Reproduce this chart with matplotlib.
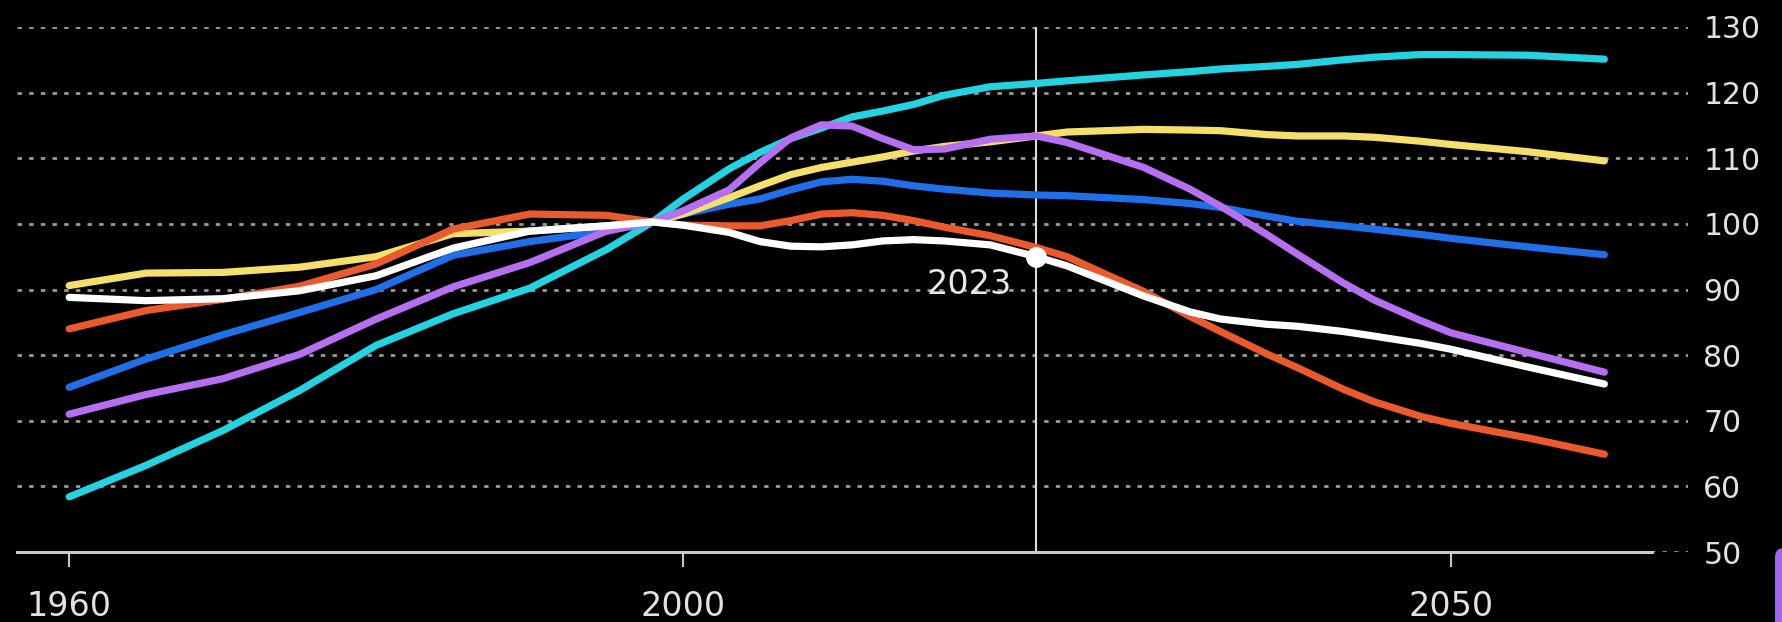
import matplotlib.pyplot as plt
from matplotlib.patches import FancyBboxPatch
from matplotlib.transforms import IdentityTransform

# Index values (2000 ~ 100), 1960-2060
years = [1960, 1965, 1970, 1975, 1980, 1985, 1990, 1995, 1998, 2000, 2003, 2005,
         2007, 2009, 2011, 2013, 2015, 2017, 2020, 2023, 2025, 2030, 2033, 2035,
         2038, 2040, 2043, 2045, 2048, 2050, 2055, 2060]

cyan_vals = [58.4, 63.2, 68.5, 74.6, 81.5, 86.3, 90.2, 96.1, 100.3, 103.8, 108.4, 110.9,
             113.0, 114.6, 116.3, 117.2, 118.2, 119.6, 120.9, 121.4, 121.8, 122.7, 123.2, 123.6,
             124.0, 124.3, 125.0, 125.4, 125.8, 125.8, 125.7, 125.1]
yellow_vals = [90.6, 92.5, 92.6, 93.4, 95.0, 98.5, 98.9, 99.7, 100.3, 101.5, 104.0, 105.8,
               107.5, 108.6, 109.4, 110.2, 111.1, 111.8, 112.5, 113.4, 114.0, 114.4, 114.3, 114.2,
               113.6, 113.4, 113.4, 113.2, 112.6, 112.1, 111.0, 109.6]
blue_vals = [75.1, 79.4, 83.1, 86.5, 90.0, 95.2, 97.3, 98.9, 100.3, 101.5, 103.0, 103.8,
             105.2, 106.4, 106.8, 106.5, 105.8, 105.3, 104.7, 104.4, 104.3, 103.7, 103.1, 102.5,
             101.2, 100.4, 99.7, 99.2, 98.4, 97.8, 96.5, 95.3]
purple_vals = [71.0, 74.0, 76.4, 80.1, 85.5, 90.4, 94.1, 98.9, 100.3, 102.0, 105.2, 109.3,
               113.1, 115.1, 114.9, 113.0, 111.3, 111.4, 112.9, 113.4, 112.4, 108.6, 105.3, 102.7,
               98.4, 95.4, 91.0, 88.4, 85.3, 83.4, 80.4, 77.4]
orange_vals = [84.0, 86.8, 88.5, 90.5, 93.9, 99.2, 101.5, 101.3, 100.3, 99.8, 99.7, 99.7,
               100.5, 101.5, 101.7, 101.3, 100.5, 99.5, 98.2, 96.4, 95.0, 89.7, 85.9, 83.6,
               80.2, 78.1, 74.8, 72.9, 70.7, 69.6, 67.4, 64.9]
white_vals = [88.8, 88.3, 88.6, 89.8, 92.1, 96.3, 98.9, 99.7, 100.3, 99.8, 98.7, 97.3,
              96.6, 96.5, 96.8, 97.4, 97.6, 97.4, 96.8, 95.0, 93.6, 89.0, 86.6, 85.5,
              84.7, 84.4, 83.6, 82.9, 81.8, 80.9, 78.2, 75.6]

x_ticks = [1960, 2000, 2050]
y_ticks = [50, 60, 70, 80, 90, 100, 110, 120, 130]
marker_year = 2023

# drawing order, bottom to top
series = [
    (blue_vals, "#1f6fe8"),
    (yellow_vals, "#f4df6a"),
    (cyan_vals, "#22d3e2"),
    (purple_vals, "#b56ff0"),
    (orange_vals, "#ea5a2c"),
    (white_vals, "#ffffff"),
]

fig = plt.figure(figsize=(17.83, 6.22), dpi=100, facecolor="black")
ax = fig.add_axes([17 / 1783, 70 / 622, 1671 / 1783, 525 / 622])
ax.set_facecolor("black")

for vals, col in series:
    ax.plot(years, vals, color=col, lw=5.2, solid_capstyle="round",
            solid_joinstyle="round", zorder=3)

ax.set_xlim(1956.6, 2065.45)
ax.set_ylim(50, 130)

# dashed horizontal grid
for v in y_ticks:
    ax.axhline(v, color="#9a9a9a", lw=2.0, dashes=(1.6, 2.6), zorder=1)

for s in ["top", "left", "right"]:
    ax.spines[s].set_visible(False)
ax.spines["bottom"].set_color("#c8c8c8")
ax.spines["bottom"].set_linewidth(2.2)
ax.spines["bottom"].set_bounds(1956.6, 2063.1)
ax.spines["bottom"].set_zorder(2)

ax.set_xticks(x_ticks)
ax.set_xticklabels([str(t) for t in x_ticks])
ax.tick_params(axis="x", length=11, width=1.5, color="#c8c8c8", pad=16,
               labelsize=24, labelcolor="#e2e2e2")

ax.yaxis.tick_right()
ax.set_yticks(y_ticks)
ax.set_yticklabels([str(t) for t in y_ticks])
ax.tick_params(axis="y", length=0, pad=11, labelsize=21.5, labelcolor="#e2e2e2")

# current-year marker
ax.axvline(marker_year, color="#dcdcdc", lw=1.5, zorder=2)
dot_val = white_vals[years.index(marker_year)]
ax.plot([marker_year], [dot_val], "o", color="white", ms=14, zorder=5)
ax.annotate(str(marker_year), xy=(marker_year, dot_val), xytext=(-18, -20),
            textcoords="offset points", ha="right", va="center",
            fontsize=24, color="#e8e8e8", zorder=6)

# corner tab
tab = FancyBboxPatch((1775, -30), 40, 104, boxstyle="round,pad=0,rounding_size=9",
                     transform=IdentityTransform(), facecolor="#a064f2",
                     edgecolor="none")
fig.add_artist(tab)

fig.savefig("out.png", dpi=100, facecolor="black")
